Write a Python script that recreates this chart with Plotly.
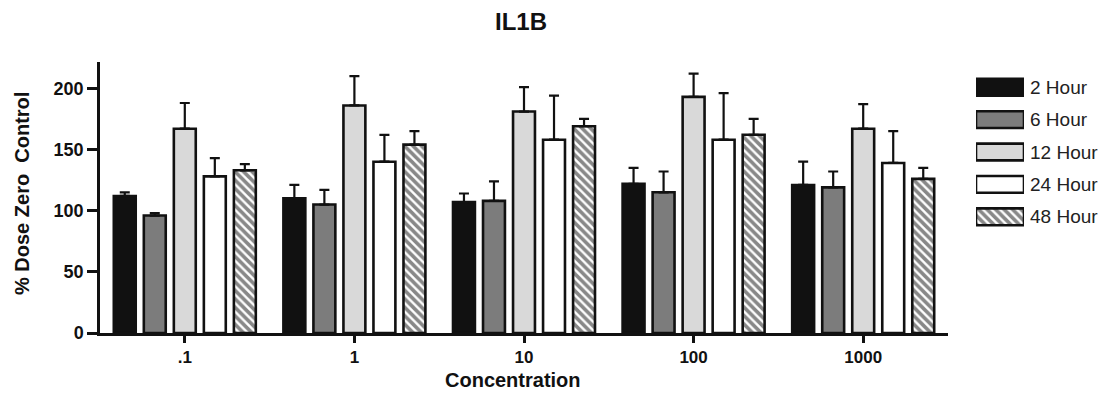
import plotly.graph_objects as go

categories = [".1", "1", "10", "100", "1000"]
series_names = ["2 Hour", "6 Hour", "12 Hour", "24 Hour", "48 Hour"]

h2 = [112, 110, 107, 122, 121]
h6 = [96, 105, 108, 115, 119]
h12 = [167, 186, 181, 193, 167]
h24 = [128, 140, 158, 158, 139]
h48 = [133, 154, 169, 162, 126]

err2 = [3, 11, 7, 13, 19]
err6 = [2, 12, 16, 17, 13]
err12 = [21, 24, 20, 19, 20]
err24 = [15, 22, 36, 38, 26]
err48 = [5, 11, 6, 13, 9]

values = [h2, h6, h12, h24, h48]
errors = [err2, err6, err12, err24, err48]
fills = ["#111111", "#7c7c7c", "#d9d9d9", "#ffffff", "#ffffff"]
patterns = ["", "", "", "", "\\"]

W, H = 1112, 395
L, T, B = 100, 62, 333
PR = 948                     # right end of the main plot
PW = W - L                   # full plotting width (margin r = 0)


def px_x(px):
    return (px - L) / PW


def px_y(py):
    return (B - py) / (B - T)


fig = go.Figure()
for name, v, e, c, p in zip(series_names, values, errors, fills, patterns):
    marker = dict(color=c, line=dict(color="#111111", width=2.6))
    if p:
        marker["pattern"] = dict(shape=p, fgcolor="#111111", bgcolor="#ffffff",
                                 size=6, solidity=0.6)
    fig.add_trace(go.Bar(
        x=categories, y=v, name=name, marker=marker, showlegend=False,
        error_y=dict(type="data", symmetric=False, array=e, arrayminus=[0] * len(e),
                     color="#111111", thickness=2.2, width=5),
    ))

# custom legend swatches on a small auxiliary axis pair
for name, c, p in zip(series_names, fills, patterns):
    marker = dict(color=c, line=dict(color="#111111", width=2.6))
    if p:
        marker["pattern"] = dict(shape=p, fgcolor="#111111", bgcolor="#ffffff",
                                 size=6, solidity=0.6)
    fig.add_trace(go.Bar(
        y=[name], x=[1], orientation="h", marker=marker, showlegend=False,
        xaxis="x2", yaxis="y2", width=0.52, offset=-0.26, hoverinfo="skip",
    ))
    fig.add_annotation(text=name, x=px_x(1028), y=name, xref="paper", yref="y2",
                       xanchor="left", yanchor="middle", showarrow=False,
                       font=dict(family="Arial", size=19, color="#222222"))

fig.update_layout(
    width=W, height=H,
    margin=dict(l=L, r=0, t=T, b=H - B, pad=0),
    paper_bgcolor="white", plot_bgcolor="white",
    barmode="group", bargap=0.115, bargroupgap=0.27,
    font=dict(family="Arial", color="#111111"),
    title=dict(text="<b>IL1B</b>", x=521 / W, xref="container", xanchor="center",
               y=1 - 22 / H, yref="container", yanchor="middle",
               font=dict(family="Arial", size=24, color="#111111")),
    xaxis=dict(domain=[0, (PR - L) / PW], range=[-0.5, 4.5],
               showline=True, linecolor="#111111", linewidth=2.5,
               ticks="outside", ticklen=7, tickwidth=2.5, tickcolor="#111111",
               tickfont=dict(family="Arial", size=17, color="#111111", weight="bold"),
               showgrid=False, zeroline=False, fixedrange=True),
    yaxis=dict(range=[0, 221.5], showline=True, linecolor="#111111", linewidth=2.5,
               ticks="outside", ticklen=10, tickwidth=2.5, tickcolor="#111111",
               tickvals=[0, 50, 100, 150, 200],
               tickfont=dict(family="Arial", size=18, color="#111111", weight="bold"),
               showgrid=False, zeroline=False, fixedrange=True),
    xaxis2=dict(domain=[px_x(976), px_x(1024)], anchor="y2",
                range=[0, 1], visible=False, fixedrange=True),
    yaxis2=dict(domain=[px_y(233), px_y(71)], anchor="x2",
                range=[4.5, -0.5], visible=False, fixedrange=True,
                categoryorder="array", categoryarray=series_names),
)

fig.add_annotation(text="<b>% Dose Zero  Control</b>", textangle=-90,
                   x=px_x(22), y=px_y(194), xref="paper", yref="paper",
                   xanchor="center", yanchor="middle", showarrow=False,
                   font=dict(family="Arial", size=20, color="#111111"))
fig.add_annotation(text="<b>Concentration</b>",
                   x=px_x(513), y=px_y(380), xref="paper", yref="paper",
                   xanchor="center", yanchor="middle", showarrow=False,
                   font=dict(family="Arial", size=20, color="#111111"))

fig.write_html("out.html", config={"displayModeBar": False},
               post_script="document.body.style.margin='0';")
